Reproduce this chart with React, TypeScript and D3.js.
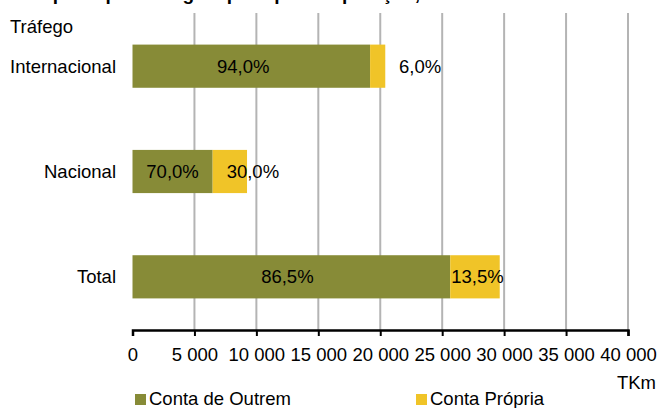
import { useEffect, useRef } from "react";
import * as d3 from "d3";

// dados (TKm)
const categories = ["Internacional", "Nacional", "Total"];
const contaOutrem = [19180, 6470, 25650];
const contaPropria = [1225, 2775, 3995];
const pctOutrem = ["94,0%", "70,0%", "86,5%"];
const pctPropria = ["6,0%", "30,0%", "13,5%"];
const xTicks = [0, 5000, 10000, 15000, 20000, 25000, 30000, 35000, 40000];
const seriesNames = ["Conta de Outrem", "Conta Própria"];

const GREEN = "#878b37";
const YELLOW = "#f0c428";
const FONT = "Liberation Sans, Arial, sans-serif";
const FS = 18.5;

function App() {
  const ref = useRef<SVGSVGElement>(null);

  useEffect(() => {
    const svg = d3.select(ref.current);
    svg.selectAll("*").remove();

    const x = d3.scaleLinear().domain([0, 40000]).range([132.5, 628]);
    const y = d3.scaleBand().domain(categories).range([13, 330]).paddingInner(0.59).paddingOuter(0.3);

    // titulo cortado no topo
    svg.append("text")
      .attr("x", 2).attr("y", 0)
      .attr("font-family", FONT).attr("font-weight", "bold").attr("font-size", 19)
      .text("Transporte por tráfego e por tipo de operação, 2012");

    svg.append("text")
      .attr("x", 10).attr("y", 33)
      .attr("font-family", FONT).attr("font-size", FS)
      .text("Tráfego");

    // grelha
    svg.append("g").selectAll("line")
      .data(xTicks.slice(1))
      .join("line")
      .attr("x1", d => x(d)).attr("x2", d => x(d))
      .attr("y1", 13).attr("y2", 330)
      .attr("stroke", "#b4b4b4").attr("stroke-width", 2);

    const rows = svg.append("g").selectAll("g")
      .data(categories)
      .join("g");

    rows.append("rect")
      .attr("x", x(0))
      .attr("y", d => y(d)!)
      .attr("width", (_, i) => x(contaOutrem[i]) - x(0))
      .attr("height", y.bandwidth())
      .attr("fill", GREEN);

    rows.append("rect")
      .attr("x", (_, i) => x(contaOutrem[i]))
      .attr("y", d => y(d)!)
      .attr("width", (_, i) => x(contaOutrem[i] + contaPropria[i]) - x(contaOutrem[i]))
      .attr("height", y.bandwidth())
      .attr("fill", YELLOW);

    rows.append("text")
      .attr("x", 116)
      .attr("y", d => y(d)! + y.bandwidth() / 2)
      .attr("dy", "0.35em")
      .attr("text-anchor", "end")
      .attr("font-family", FONT).attr("font-size", FS)
      .text(d => d);

    const greenShift = [-8, 0, -4];
    rows.append("text")
      .attr("x", (_, i) => (x(0) + x(contaOutrem[i])) / 2 + greenShift[i])
      .attr("y", d => y(d)! + y.bandwidth() / 2)
      .attr("dy", "0.35em")
      .attr("text-anchor", "middle")
      .attr("font-family", FONT).attr("font-size", FS)
      .text((_, i) => pctOutrem[i]);

    const yellowShift = [29, 14, 1];
    rows.append("text")
      .attr("x", (_, i) => x(contaOutrem[i]) + yellowShift[i])
      .attr("y", d => y(d)! + y.bandwidth() / 2)
      .attr("dy", "0.35em")
      .attr("font-family", FONT).attr("font-size", FS)
      .text((_, i) => pctPropria[i]);

    // eixo x
    const axis = svg.append("g").attr("transform", "translate(0,330)");
    axis.call(
      d3.axisBottom(x)
        .tickValues(xTicks)
        .tickSize(6)
        .tickFormat(d => d3.format(",")(d as number).replace(/,/g, " "))
    );
    axis.select(".domain").attr("stroke", "#000").attr("stroke-width", 2.5);
    axis.selectAll(".tick line").attr("stroke", "#000").attr("stroke-width", 2);
    axis.selectAll(".tick text")
      .attr("font-family", FONT).attr("font-size", FS).attr("fill", "#000")
      .attr("y", 31).attr("dy", 0);

    svg.append("text")
      .attr("x", 656).attr("y", 389)
      .attr("text-anchor", "end")
      .attr("font-family", FONT).attr("font-size", FS)
      .text("TKm");

    // legenda
    const legendX = [135, 416];
    const legend = svg.append("g").selectAll("g")
      .data(seriesNames)
      .join("g")
      .attr("transform", (_, i) => `translate(${legendX[i]},394)`);
    legend.append("rect")
      .attr("width", 11).attr("height", 11)
      .attr("fill", (_, i) => (i === 0 ? GREEN : YELLOW));
    legend.append("text")
      .attr("x", 14).attr("y", 11)
      .attr("font-family", FONT).attr("font-size", FS)
      .text(d => d);
  }, []);

  return (
    <svg ref={ref} width={657} height={408} style={{ position: "absolute", left: 0, top: 0, background: "#fff" }} />
  );
}

export default App;
